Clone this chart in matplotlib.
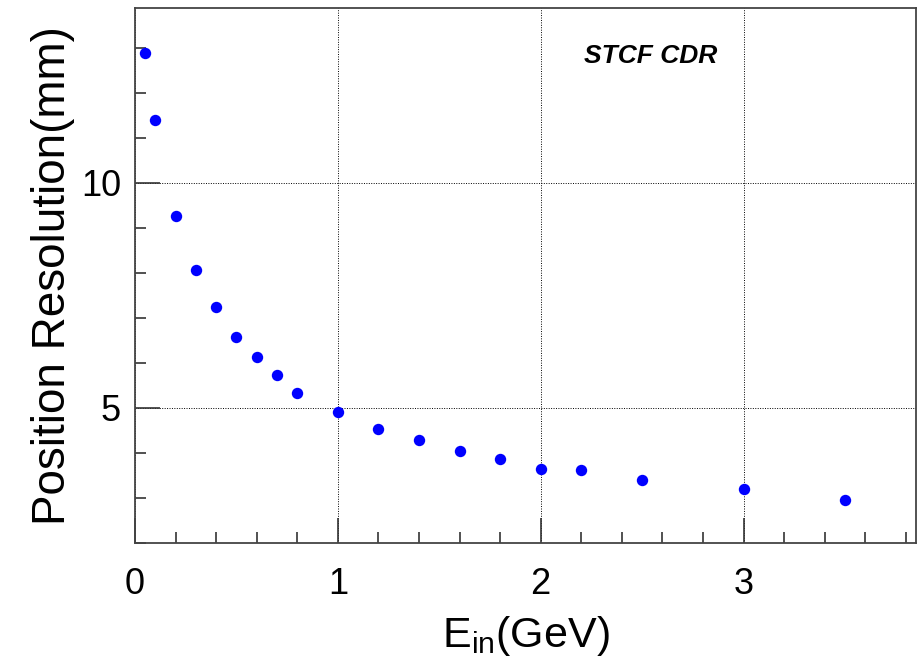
import matplotlib
matplotlib.use("Agg")
import matplotlib.pyplot as plt
from matplotlib.ticker import MultipleLocator

plt.rcParams['font.family'] = ['Liberation Sans', 'DejaVu Sans']
plt.rcParams['mathtext.fontset'] = 'custom'
plt.rcParams['mathtext.rm'] = 'Liberation Sans'

# energia incidente (GeV) e resolucao de posicao (mm)
energia = [0.05, 0.1, 0.2, 0.3, 0.4, 0.5, 0.6, 0.7, 0.8, 1.0,
           1.2, 1.4, 1.6, 1.8, 2.0, 2.2, 2.5, 3.0, 3.5]
resolucao = [12.89, 11.40, 9.27, 8.07, 7.24, 6.58, 6.13, 5.73, 5.33, 4.92,
             4.54, 4.29, 4.04, 3.86, 3.64, 3.61, 3.39, 3.20, 2.96]

fig = plt.figure(figsize=(9.23, 6.58), dpi=100)
ax = fig.add_axes([135 / 923, 115 / 658, 781 / 923, 535 / 658])

ax.plot(energia, resolucao, 'o', color='#0000ff', markersize=8.2, markeredgewidth=0)

ax.set_xlim(0, 3.85)
ax.set_ylim(2.0, 13.88)

ax.xaxis.set_major_locator(MultipleLocator(1))
ax.xaxis.set_minor_locator(MultipleLocator(0.2))
ax.yaxis.set_major_locator(MultipleLocator(5))
ax.yaxis.set_minor_locator(MultipleLocator(1))

ax.tick_params(which='both', direction='in', top=False, right=False, labelsize=26, width=1.2, color='#333333')
ax.tick_params(which='major', length=18)
ax.tick_params(which='minor', length=8)
ax.tick_params(axis='x', pad=17)
ax.tick_params(axis='y', pad=10)

ax.grid(True, which='major', linestyle=(0, (1, 1.5)), color='black', linewidth=0.7)

for s in ax.spines.values():
    s.set_color('#444444')
    s.set_linewidth(1.3)

ax.set_xlabel(r'E$_{\mathrm{in}}$(GeV)', fontsize=31, labelpad=9)
ax.set_ylabel('Position Resolution(mm)', fontsize=33, labelpad=4)

ax.text(0.575, 0.91, 'STCF CDR', transform=ax.transAxes, fontsize=19,
        fontweight='bold', fontstyle='italic', ha='left', va='center')

fig.savefig('out.png', dpi=100)
